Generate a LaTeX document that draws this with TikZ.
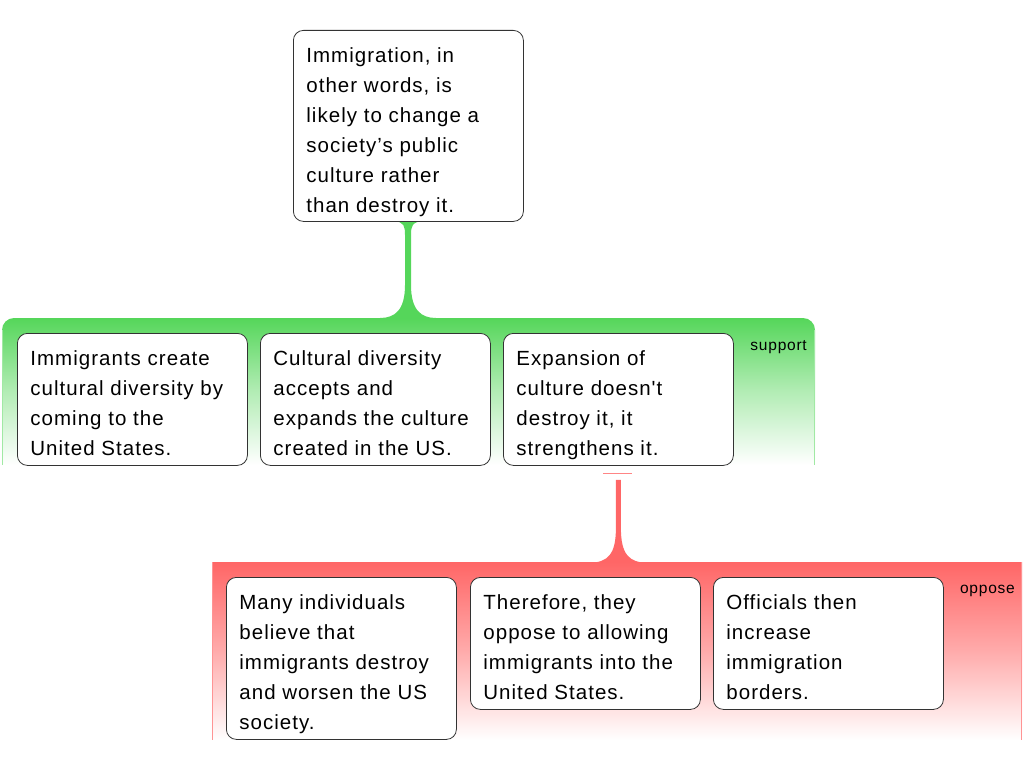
\documentclass[tikz,border=0pt]{standalone}
\usepackage{fontspec}
\setmainfont{Liberation Sans}[LetterSpace=5, Ligatures=TeXOff]
\usetikzlibrary{calc}
\definecolor{sgreen}{HTML}{55D65A}
\definecolor{ored}{HTML}{FF6666}
\newcommand{\cardtxt}[2]{\parbox[c][#1][t]{204pt}{\raggedright\rule{0pt}{22pt}#2}}
\begin{document}
\begin{tikzpicture}[x=1pt,y=-1pt,
  card/.style={draw=black!80, line width=0.8pt, fill=white, rounded corners=10pt,
    inner xsep=13pt, inner ysep=10pt, anchor=north west,
    font=\fontsize{20.5}{30}\selectfont},
  lbl/.style={font=\fontsize{15.5}{16}\selectfont, inner sep=0pt, text=black},
  sband/.style={top color=sgreen, bottom color=white, middle color=sgreen!45},
  oband/.style={top color=ored, bottom color=white, middle color=ored!55}]
\useasboundingbox (0,0) rectangle (1024,768);

% support band
\shade[sband] (2,465) {[rounded corners=12pt] -- (2,318) -- (815,318)} -- (815,465) -- cycle;
\draw[sgreen!55, line width=1pt] (2.5,330) -- (2.5,465);
\draw[sgreen!55, line width=1pt] (814.5,330) -- (814.5,465);
\node[lbl, anchor=base east] (sup) at (807,350) {support};

% oppose band
\shade[oband] (212,562) rectangle (1022,740);
\draw[ored!70, line width=1pt] (212.5,562) -- (212.5,740);
\draw[ored!70, line width=1pt] (1021.5,562) -- (1021.5,740);
\node[lbl, anchor=base east] (opp) at (1015,593) {oppose};

% connectors
\coordinate (tb) at (408,221);
\begin{scope}[shift={(tb)}]
  \fill[sgreen] (-14,0) .. controls (-4,1) and (-3,5) .. (-3,14) -- (-3,64)
    .. controls (-3,89) and (-13,97) .. (-28,97) -- (28,97)
    .. controls (13,97) and (3,89) .. (3,64) -- (3,14)
    .. controls (3,5) and (4,1) .. (15,0) -- cycle;
\end{scope}

% cards
\node[card] (top) at (293,30)
  {\cardtxt{171pt}{Immigration, in\\other words, is\\likely to change a\\society’s public\\culture rather\\than destroy it.}};

\node[card] (g1) at (17,333)
  {\cardtxt{112pt}{Immigrants create\\cultural diversity by\\coming to the\\United States.}};
\node[card] (g2) at (260,333)
  {\cardtxt{112pt}{Cultural diversity\\accepts and\\expands the culture\\created in the US.}};
\node[card] (g3) at (503,333)
  {\cardtxt{112pt}{Expansion of\\culture doesn't\\destroy it, it\\strengthens it.}};

\node[card] (r1) at (226,577)
  {\cardtxt{142pt}{Many individuals\\believe that\\immigrants destroy\\and worsen the US\\society.}};
\node[card] (r2) at (470,577)
  {\cardtxt{112pt}{Therefore, they\\oppose to allowing\\immigrants into the\\United States.}};
\node[card] (r3) at (713,577)
  {\cardtxt{112pt}{Officials then\\increase\\immigration\\borders.}};

% oppose connector from g3
\begin{scope}[shift={(g3.south)}]
  \draw[ored!80, line width=1.2pt] (-15,8) -- (14,8);
  \fill[ored] (-2.5,14) -- (-2.5,62)
    .. controls (-2.5,88) and (-10,97) .. (-30,97) -- (30,97)
    .. controls (10,97) and (2.5,88) .. (2.5,62) -- (2.5,14) -- cycle;
\end{scope}
\end{tikzpicture}
\end{document}
